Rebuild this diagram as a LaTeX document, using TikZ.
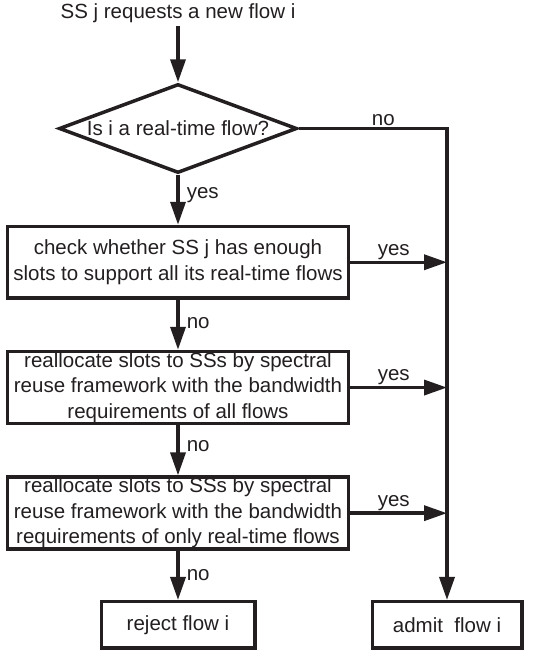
\documentclass[tikz,border=0pt]{standalone}
\usepackage{fontspec}
\setmainfont{Liberation Sans}
\usetikzlibrary{arrows.meta,positioning,shapes.geometric}
\definecolor{ink}{RGB}{35,31,32}
\tikzset{
  proc/.style={draw=ink,line width=3.5pt,minimum width=341pt,minimum height=71.5pt,align=center,
    inner sep=1pt},
  decide/.style={draw=ink,diamond,line width=3.5pt,minimum width=238pt,minimum height=89pt,
    inner sep=0pt,aspect=2.6},
  term/.style={draw=ink,line width=3.5pt,minimum height=46.5pt,inner sep=1pt},
  flow/.style={-{Triangle[length=23pt,width=15pt]},line width=3.5pt,draw=ink},
  lbl/.style={inner sep=1pt,text=ink},
}

\begin{document}
\begin{tikzpicture}[x=1pt,y=-1pt,node distance=50pt,font=\fontsize{20.5}{25.5}\selectfont,
    text=ink]
    \useasboundingbox (0,0) rectangle (534,657);
    % main column
    \node (req) at (178,13) {SS j requests a new flow i};
    \node[decide] (rt) at (178,128.5) {Is i a real-time flow?};
    \node[proc,below=of rt] (chk) {check whether SS j has enough\\slots to support all its real-time flows};
    \node[proc,below=of chk] (allfl) {reallocate slots to SSs by spectral\\reuse framework with the bandwidth\\requirements of all flows};
    \node[proc,below=of allfl] (rtfl) {reallocate slots to SSs by spectral\\reuse framework with the bandwidth\\requirements of only real-time flows};
    \node[term,minimum width=153.5pt,below=49pt of rtfl] (rej) {reject flow i};

    % admission line on the right
    \coordinate (bus) at (447,0);
    \node[term,minimum width=149.5pt] (adm) at (rej -| bus) {admit\ \ flow i};

    \draw[flow] (req) -- (rt);
    \draw[flow] (rt) -- node[lbl,right,pos=0.4,xshift=6pt] {yes} (chk);
    \draw[flow] (chk) -- node[lbl,right,pos=0.47,xshift=6pt] {no} (allfl);
    \draw[flow] (allfl) -- node[lbl,right,pos=0.42,xshift=6pt] {no} (rtfl);
    \draw[flow] (rtfl) -- node[lbl,right,pos=0.5,xshift=6pt] {no} (rej);
    \draw[flow] (rt.east) -- node[lbl,above,pos=0.57] {no} (rt.east -| bus) -- (adm);
    \foreach \b in {chk,allfl,rtfl}
      \draw[flow] (\b.east) -- node[lbl,above,pos=0.45] {yes} (\b.east -| bus);
\end{tikzpicture}
\end{document}
